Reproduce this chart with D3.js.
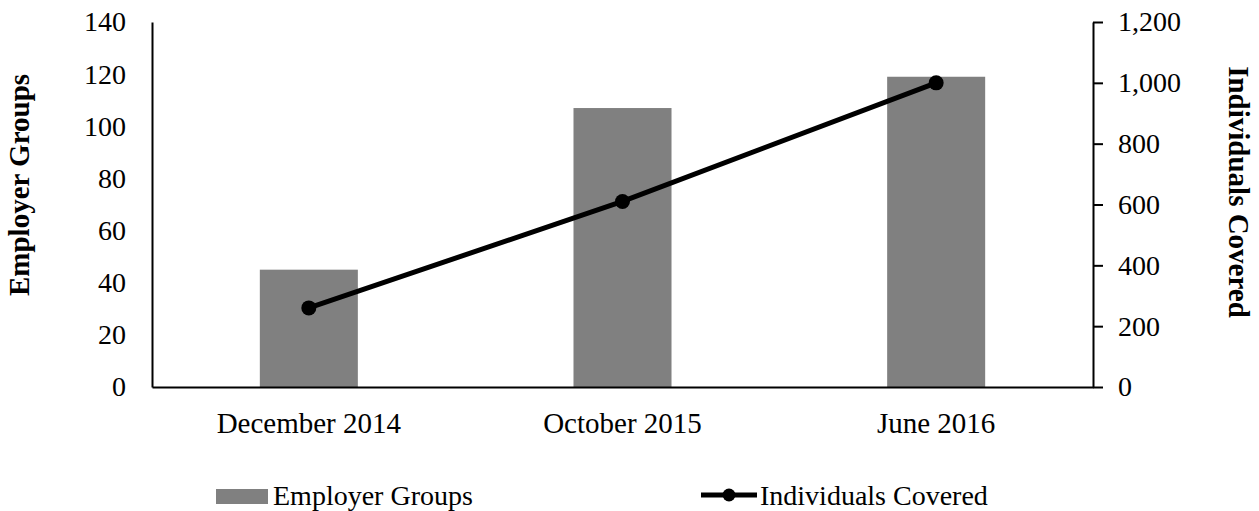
<!DOCTYPE html>
<html>
<head>
<meta charset="utf-8">
<script src="https://cdn.jsdelivr.net/npm/d3@7"></script>
<style>
  body { margin: 0; background: #fff; }
  svg text { font-family: "Liberation Serif", "Times New Roman", serif; fill: #000; }
</style>
</head>
<body>
<svg id="chart" width="1259" height="511"></svg>
<script>
// chart data
const categories = ["December 2014", "October 2015", "June 2016"];
const employerGroups = [45, 107, 119];
const individualsCovered = [260, 610, 1000];
const leftTicks = [0, 20, 40, 60, 80, 100, 120, 140];
const rightTicks = [0, 200, 400, 600, 800, 1000, 1200];

const svg = d3.select("#chart");
const plotLeft = 152, plotRight = 1093, plotTop = 22, plotBottom = 387;
const fontSize = 28;

const x = d3.scaleBand()
    .domain(categories)
    .range([plotLeft, plotRight])
    .paddingInner(0.6875)
    .paddingOuter(0.34375);

const yLeft = d3.scaleLinear().domain([0, 140]).range([plotBottom, plotTop]);
const yRight = d3.scaleLinear().domain([0, 1200]).range([plotBottom, plotTop]);

// bars
svg.append("g").attr("class", "bars")
    .selectAll("rect")
    .data(categories)
    .enter().append("rect")
    .attr("x", d => x(d))
    .attr("width", x.bandwidth())
    .attr("y", (d, i) => yLeft(employerGroups[i]))
    .attr("height", (d, i) => plotBottom - yLeft(employerGroups[i]))
    .attr("fill", "#808080");

// left axis (no tick marks)
const leftAxis = svg.append("g")
    .attr("transform", `translate(${plotLeft},0)`)
    .call(d3.axisLeft(yLeft).tickValues(leftTicks).tickSize(0).tickPadding(26));
leftAxis.select(".domain").attr("stroke", "#000").attr("stroke-width", 2);
leftAxis.selectAll("text").style("font-size", fontSize + "px");

// right axis
const rightAxis = svg.append("g")
    .attr("transform", `translate(${plotRight},0)`)
    .call(d3.axisRight(yRight).tickValues(rightTicks).tickFormat(d3.format(","))
        .tickSizeInner(10).tickSizeOuter(0).tickPadding(15));
rightAxis.select(".domain").attr("stroke", "#000").attr("stroke-width", 2);
rightAxis.selectAll(".tick line").attr("stroke", "#000").attr("stroke-width", 2);
rightAxis.selectAll("text").style("font-size", fontSize + "px");

// bottom axis
const bottomAxis = svg.append("g")
    .attr("transform", `translate(0,${plotBottom})`)
    .call(d3.axisBottom(x).tickSize(0).tickPadding(25));
bottomAxis.select(".domain").attr("stroke", "#000").attr("stroke-width", 2);
bottomAxis.selectAll("text").style("font-size", "29px");

// line series
const lineData = categories.map((c, i) => ({ c: c, v: individualsCovered[i] }));
const line = d3.line()
    .x(d => x(d.c) + x.bandwidth() / 2)
    .y(d => yRight(d.v));

svg.append("path")
    .datum(lineData)
    .attr("d", line)
    .attr("fill", "none")
    .attr("stroke", "#000")
    .attr("stroke-width", 5);

svg.append("g").selectAll("circle")
    .data(lineData)
    .enter().append("circle")
    .attr("cx", d => x(d.c) + x.bandwidth() / 2)
    .attr("cy", d => yRight(d.v))
    .attr("r", 7.5)
    .attr("fill", "#000");

// axis titles
svg.append("text")
    .attr("transform", "translate(29,185) rotate(-90)")
    .attr("text-anchor", "middle")
    .style("font-size", "29px")
    .style("font-weight", "bold")
    .text("Employer Groups");

svg.append("text")
    .attr("transform", "translate(1229,192) rotate(90)")
    .attr("text-anchor", "middle")
    .style("font-size", "29px")
    .style("font-weight", "bold")
    .text("Individuals Covered");

// legend
const legend = svg.append("g").attr("class", "legend");
legend.append("rect")
    .attr("x", 216).attr("y", 489)
    .attr("width", 52).attr("height", 15)
    .attr("fill", "#808080");
legend.append("text")
    .attr("x", 273).attr("y", 505)
    .style("font-size", fontSize + "px")
    .text("Employer Groups");

legend.append("line")
    .attr("x1", 701).attr("x2", 757)
    .attr("y1", 495).attr("y2", 495)
    .attr("stroke", "#000").attr("stroke-width", 5);
legend.append("circle")
    .attr("cx", 729).attr("cy", 495).attr("r", 6.5)
    .attr("fill", "#000");
legend.append("text")
    .attr("x", 760).attr("y", 505)
    .style("font-size", fontSize + "px")
    .text("Individuals Covered");
</script>
</body>
</html>
